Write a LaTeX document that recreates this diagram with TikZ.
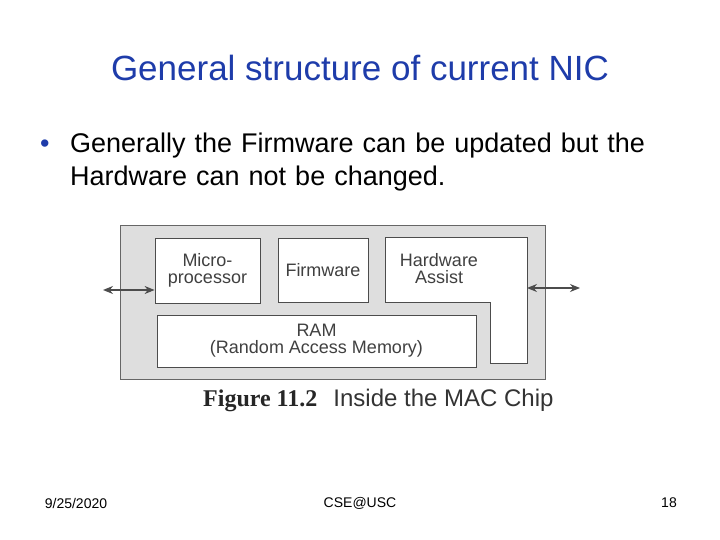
\documentclass[tikz,border=0pt]{standalone}
\usepackage{fontspec}
\setmainfont{Liberation Sans}
\usetikzlibrary{positioning,arrows.meta}
\definecolor{titleblue}{RGB}{30,60,170}
\definecolor{chipgray}{RGB}{222,222,222}
\tikzset{
  unit/.style={draw=black!70,fill=white,line width=0.8pt,inner sep=0pt,align=center,font=\fontsize{18}{17}\selectfont,text=black!75},
  link/.style={{Stealth[length=10pt,width=8pt]}-{Stealth[length=10pt,width=8pt]},line width=1.2pt,black!70}
}
\begin{document}
\begin{tikzpicture}[x=1pt,y=-1pt]
\useasboundingbox (0,0) rectangle (720,540);
\node[text=titleblue,font=\fontsize{35}{38}\selectfont] (title) at (360,68) {General structure of current NIC};
\node[anchor=north west,align=left,font=\fontsize{27}{33}\selectfont,text width=660,inner sep=0pt] (bullet) at (40,133)
  {\makebox[30pt][l]{\textcolor{titleblue}{\textbullet}}Generally the Firmware can be updated but the\\\hspace*{30pt}Hardware can not be changed.};
% chip
\draw[black!60,fill=chipgray,line width=0.8pt] (120,225) rectangle (545,379);
\node[unit,minimum width=105,minimum height=65] (micro) at (207.5,270.5) {Micro-\\processor};
\node[unit,minimum width=90,minimum height=64] (firm) at (323,270) {Firmware};
\node[unit,minimum width=319,minimum height=52] (ram) at (316.5,341) {RAM\\(Random Access Memory)};
\draw[black!70,fill=white,line width=0.8pt] (385,237) -- (527,237) -- (527,363) -- (490,363) -- (490,302) -- (385,302) -- cycle;
\node[font=\fontsize{18}{17}\selectfont,text=black!75,align=center] (hwa) at (439,269) {Hardware\\Assist};
\coordinate (hwaeast) at (527,288);
\coordinate (leftend) at (103,290);
\coordinate (rightend) at (580,288);
\draw[link] (leftend) -- (micro.west |- leftend);
\draw[link] (hwaeast) -- (rightend);
\node[anchor=west,font=\fontsize{24}{26}\selectfont,inner sep=0pt] (caption) at (203,400)
  {{\fontspec{Liberation Serif}\bfseries\textcolor{black!85}{Figure 11.2}}\hspace{16pt}\textcolor{black!80}{Inside the MAC Chip}};
% footer
\node[font=\fontsize{14}{16}\selectfont] (date) at (76,503) {9/25/2020};
\node[font=\fontsize{14}{16}\selectfont] (org) at (360,503) {CSE@USC};
\node[font=\fontsize{14}{16}\selectfont] (page) at (669,503) {18};
\end{tikzpicture}
\end{document}
